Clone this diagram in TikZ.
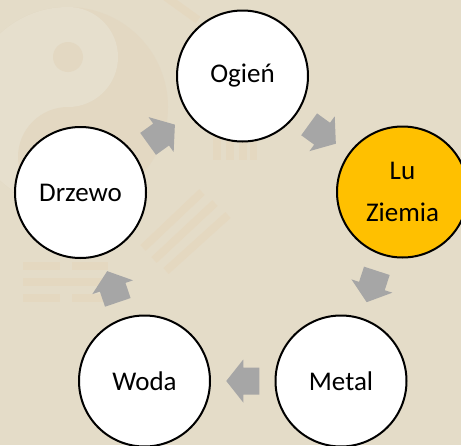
\documentclass[tikz,border=0pt]{standalone}
\usepackage{fontspec}
\setmainfont{Carlito}
\definecolor{bg}{HTML}{E4DCC8}
\definecolor{wmlight}{HTML}{E6DFCD}
\definecolor{wmdark}{HTML}{E3D8C2}
\definecolor{wmbar}{HTML}{E4D8C0}
\definecolor{arrowgrey}{HTML}{A6A6A6}
\definecolor{gold}{HTML}{FFC000}
\begin{document}
\begin{tikzpicture}[x=1pt,y=-1pt,
  element/.style={circle, draw=black, line width=2pt, fill=white,
    minimum size=131pt, inner sep=0pt, text=black,
    font=\fontsize{27}{42}\selectfont, align=center},
  wmbarline/.style={draw=wmbar, line width=8pt},
  pics/cyclearrow/.style={code={
    \fill[arrowgrey] (-16.5,-13.5) -- (-0.5,-13.5) -- (-0.5,-21.5) -- (16.5,0)
      -- (-0.5,21.5) -- (-0.5,13.5) -- (-16.5,13.5) -- cycle;}}]
\useasboundingbox (0,0) rectangle (461,445);
\clip (0,0) rectangle (461,445);
\fill[bg] (0,0) rectangle (461,445);
% watermark: yin-yang
\fill[wmdark] (68,107) circle (100);
\begin{scope}
  \clip (-40,0) rectangle (68,220);
  \fill[wmlight] (68,107) circle (100);
\end{scope}
\fill[wmlight] (68,57) circle (50);
\fill[wmdark] (68,157) circle (50);
\fill[wmdark] (68,57) circle (15);
\fill[wmlight] (68,157) circle (15);
% watermark: trigram bars
\fill[wmbar] (23,262) rectangle (60,270);
\fill[wmbar] (72,262) rectangle (108,270);
\fill[wmbar] (23,278) rectangle (108,286);
\fill[wmbar] (23,294) rectangle (60,302);
\fill[wmbar] (72,294) rectangle (108,302);
\path[wmbarline] (143,248) -- (202,192);
\path[wmbarline] (154,260) -- (215,203);
\path[wmbarline] (166,271) -- (228,215);
\fill[wmbar] (213,120) rectangle (221,160);
\fill[wmbar] (226,120) rectangle (234,160);
\fill[wmbar] (239,120) rectangle (247,160);
\fill[wmbar] (250,120) rectangle (257,160);
\path[wmbarline] (166,-3) -- (198,20);
% elements
\node[element] (ogien) at (242.5,76) {Ogień};
\node[element, fill=gold] (ziemia) at (402.5,192) {Lu\\Ziemia};
\node[element] (metal) at (341,381) {Metal};
\node[element] (woda) at (144.5,381) {Woda};
\node[element] (drzewo) at (80.5,192.5) {Drzewo};
% arrows
\path (ogien) -- (ziemia) pic[pos=0.5, sloped, allow upside down] {cyclearrow};
\path (ziemia) -- (metal) pic[pos=0.5, sloped, allow upside down] {cyclearrow};
\path (metal) -- (woda) pic[pos=0.5, sloped, allow upside down] {cyclearrow};
\path (woda) -- (drzewo) pic[pos=0.5, sloped, allow upside down] {cyclearrow};
\path (drzewo) -- (ogien) pic[pos=0.5, sloped, allow upside down] {cyclearrow};
\end{tikzpicture}
\end{document}
